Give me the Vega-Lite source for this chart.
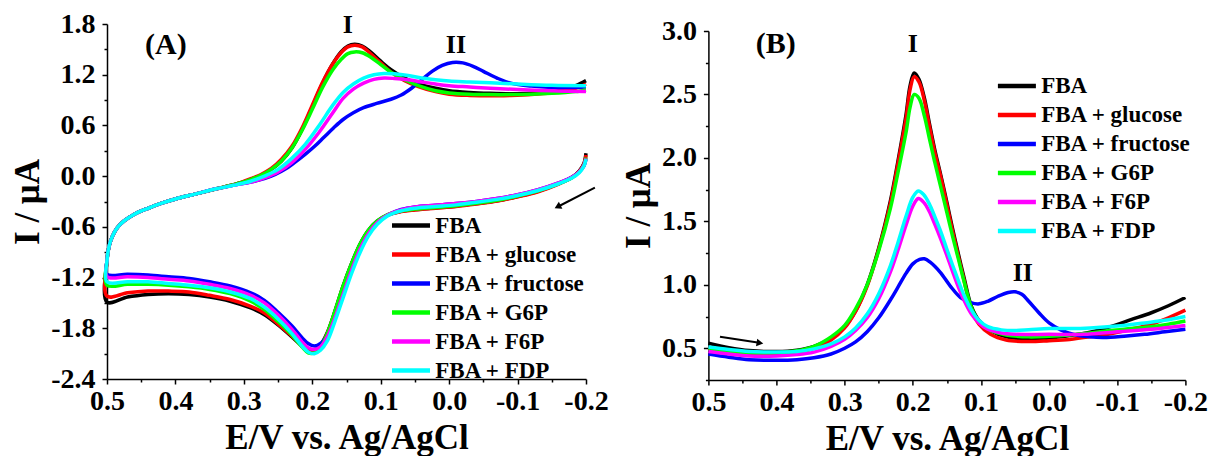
{
"$schema": "https://vega.github.io/schema/vega-lite/v6.json",
"background": "white",
"padding": {"left": 10, "top": 10, "right": 0, "bottom": 0},
"config": {
 "view": {"stroke": null},
 "font": "Liberation Serif",
 "axis": {"grid": false, "domainColor": "black", "domainWidth": 1.5, "tickColor": "black", "tickWidth": 1.5, "tickCount": 100,
  "labelFont": "Liberation Serif", "labelFontWeight": "bold", "labelFontSize": 28, "labelColor": "black",
  "labelOverlap": false, "labelFlush": false, "labelBound": false, "labelPadding": 7,
  "titleFont": "Liberation Serif", "titleFontWeight": "bold", "titleFontSize": 35, "titleColor": "black"},
 "legend": {"orient": "none", "title": null, "symbolType": "M-2,0H2", "symbolSize": 361, "symbolStrokeWidth": 4.5,
  "labelFont": "Liberation Serif", "labelFontWeight": "bold", "labelFontSize": 23, "labelColor": "black",
  "rowPadding": 5, "labelOffset": 12.3, "symbolFillColor": "transparent", "symbolOpacity": 1}
},
"datasets": {
 "cv": [
{"c":"FBA","E":-0.2,"I":0.27},{"c":"FBA","E":-0.197,"I":0.15},{"c":"FBA","E":-0.19,"I":0.06},{"c":"FBA","E":-0.18,"I":-0.01},{"c":"FBA","E":-0.16,"I":-0.09},{"c":"FBA","E":-0.13,"I":-0.18},{"c":"FBA","E":-0.1,"I":-0.24},{"c":"FBA","E":-0.07,"I":-0.29},{"c":"FBA","E":-0.04,"I":-0.325},{"c":"FBA","E":-0.01,"I":-0.355},{"c":"FBA","E":0.02,"I":-0.375},{"c":"FBA","E":0.05,"I":-0.395},{"c":"FBA","E":0.07,"I":-0.415},{"c":"FBA","E":0.09,"I":-0.46},{"c":"FBA","E":0.105,"I":-0.53},{"c":"FBA","E":0.118,"I":-0.64},{"c":"FBA","E":0.13,"I":-0.8},{"c":"FBA","E":0.142,"I":-1.02},{"c":"FBA","E":0.155,"I":-1.3},{"c":"FBA","E":0.167,"I":-1.6},{"c":"FBA","E":0.178,"I":-1.85},{"c":"FBA","E":0.188,"I":-2.0},{"c":"FBA","E":0.197,"I":-2.06},{"c":"FBA","E":0.206,"I":-2.06},{"c":"FBA","E":0.215,"I":-2.01},{"c":"FBA","E":0.23,"I":-1.9},{"c":"FBA","E":0.25,"I":-1.76},{"c":"FBA","E":0.27,"I":-1.64},{"c":"FBA","E":0.29,"I":-1.56},{"c":"FBA","E":0.32,"I":-1.48},{"c":"FBA","E":0.35,"I":-1.43},{"c":"FBA","E":0.38,"I":-1.4},{"c":"FBA","E":0.41,"I":-1.39},{"c":"FBA","E":0.44,"I":-1.4},{"c":"FBA","E":0.47,"I":-1.43},{"c":"FBA","E":0.5,"I":-1.49},
{"c":"FBA","E":0.5,"I":-1.0},{"c":"FBA","E":0.497,"I":-0.83},{"c":"FBA","E":0.492,"I":-0.71},{"c":"FBA","E":0.485,"I":-0.61},{"c":"FBA","E":0.475,"I":-0.53},{"c":"FBA","E":0.46,"I":-0.45},{"c":"FBA","E":0.44,"I":-0.38},{"c":"FBA","E":0.42,"I":-0.32},{"c":"FBA","E":0.4,"I":-0.27},{"c":"FBA","E":0.37,"I":-0.21},{"c":"FBA","E":0.34,"I":-0.15},{"c":"FBA","E":0.31,"I":-0.09},
{"c":"FBA","E":0.29,"I":-0.04},{"c":"FBA","E":0.275,"I":0.01},{"c":"FBA","E":0.26,"I":0.08},{"c":"FBA","E":0.245,"I":0.18},{"c":"FBA","E":0.23,"I":0.33},{"c":"FBA","E":0.215,"I":0.55},{"c":"FBA","E":0.2,"I":0.82},{"c":"FBA","E":0.185,"I":1.1},{"c":"FBA","E":0.17,"I":1.33},{"c":"FBA","E":0.158,"I":1.47},{"c":"FBA","E":0.148,"I":1.54},{"c":"FBA","E":0.138,"I":1.56},{"c":"FBA","E":0.127,"I":1.54},{"c":"FBA","E":0.115,"I":1.47},{"c":"FBA","E":0.1,"I":1.36},{"c":"FBA","E":0.085,"I":1.26},{"c":"FBA","E":0.065,"I":1.16},{"c":"FBA","E":0.045,"I":1.09},{"c":"FBA","E":0.02,"I":1.04},{"c":"FBA","E":0.0,"I":1.01},{"c":"FBA","E":-0.03,"I":0.99},{"c":"FBA","E":-0.06,"I":0.98},{"c":"FBA","E":-0.09,"I":0.975},{"c":"FBA","E":-0.12,"I":0.98},{"c":"FBA","E":-0.15,"I":1.0},{"c":"FBA","E":-0.17,"I":1.03},{"c":"FBA","E":-0.185,"I":1.07},{"c":"FBA","E":-0.2,"I":1.13},

{"c":"FBA + glucose","E":-0.2,"I":0.25},{"c":"FBA + glucose","E":-0.197,"I":0.14},{"c":"FBA + glucose","E":-0.19,"I":0.055},{"c":"FBA + glucose","E":-0.18,"I":-0.015},{"c":"FBA + glucose","E":-0.16,"I":-0.095},{"c":"FBA + glucose","E":-0.13,"I":-0.185},{"c":"FBA + glucose","E":-0.1,"I":-0.245},{"c":"FBA + glucose","E":-0.07,"I":-0.295},{"c":"FBA + glucose","E":-0.04,"I":-0.33},{"c":"FBA + glucose","E":-0.01,"I":-0.36},{"c":"FBA + glucose","E":0.02,"I":-0.38},{"c":"FBA + glucose","E":0.05,"I":-0.4},{"c":"FBA + glucose","E":0.07,"I":-0.42},{"c":"FBA + glucose","E":0.09,"I":-0.465},{"c":"FBA + glucose","E":0.105,"I":-0.535},{"c":"FBA + glucose","E":0.118,"I":-0.65},{"c":"FBA + glucose","E":0.13,"I":-0.81},{"c":"FBA + glucose","E":0.142,"I":-1.03},{"c":"FBA + glucose","E":0.155,"I":-1.31},{"c":"FBA + glucose","E":0.167,"I":-1.61},{"c":"FBA + glucose","E":0.178,"I":-1.86},{"c":"FBA + glucose","E":0.188,"I":-2.01},{"c":"FBA + glucose","E":0.197,"I":-2.07},{"c":"FBA + glucose","E":0.206,"I":-2.07},{"c":"FBA + glucose","E":0.215,"I":-2.01},{"c":"FBA + glucose","E":0.23,"I":-1.89},{"c":"FBA + glucose","E":0.25,"I":-1.75},{"c":"FBA + glucose","E":0.27,"I":-1.62},{"c":"FBA + glucose","E":0.29,"I":-1.54},{"c":"FBA + glucose","E":0.32,"I":-1.46},{"c":"FBA + glucose","E":0.35,"I":-1.41},{"c":"FBA + glucose","E":0.38,"I":-1.37},{"c":"FBA + glucose","E":0.41,"I":-1.36},{"c":"FBA + glucose","E":0.44,"I":-1.36},{"c":"FBA + glucose","E":0.47,"I":-1.38},{"c":"FBA + glucose","E":0.5,"I":-1.42},
{"c":"FBA + glucose","E":0.5,"I":-1.0},{"c":"FBA + glucose","E":0.497,"I":-0.83},{"c":"FBA + glucose","E":0.492,"I":-0.71},{"c":"FBA + glucose","E":0.485,"I":-0.61},{"c":"FBA + glucose","E":0.475,"I":-0.53},{"c":"FBA + glucose","E":0.46,"I":-0.45},{"c":"FBA + glucose","E":0.44,"I":-0.38},{"c":"FBA + glucose","E":0.42,"I":-0.32},{"c":"FBA + glucose","E":0.4,"I":-0.27},{"c":"FBA + glucose","E":0.37,"I":-0.21},{"c":"FBA + glucose","E":0.34,"I":-0.15},{"c":"FBA + glucose","E":0.31,"I":-0.09},
{"c":"FBA + glucose","E":0.29,"I":-0.03},{"c":"FBA + glucose","E":0.275,"I":0.02},{"c":"FBA + glucose","E":0.26,"I":0.09},{"c":"FBA + glucose","E":0.245,"I":0.2},{"c":"FBA + glucose","E":0.23,"I":0.35},{"c":"FBA + glucose","E":0.215,"I":0.57},{"c":"FBA + glucose","E":0.2,"I":0.84},{"c":"FBA + glucose","E":0.185,"I":1.11},{"c":"FBA + glucose","E":0.17,"I":1.33},{"c":"FBA + glucose","E":0.158,"I":1.46},{"c":"FBA + glucose","E":0.148,"I":1.53},{"c":"FBA + glucose","E":0.138,"I":1.55},{"c":"FBA + glucose","E":0.127,"I":1.53},{"c":"FBA + glucose","E":0.115,"I":1.45},{"c":"FBA + glucose","E":0.1,"I":1.34},{"c":"FBA + glucose","E":0.085,"I":1.23},{"c":"FBA + glucose","E":0.065,"I":1.13},{"c":"FBA + glucose","E":0.045,"I":1.06},{"c":"FBA + glucose","E":0.02,"I":1.0},{"c":"FBA + glucose","E":0.0,"I":0.97},{"c":"FBA + glucose","E":-0.03,"I":0.955},{"c":"FBA + glucose","E":-0.06,"I":0.95},{"c":"FBA + glucose","E":-0.09,"I":0.955},{"c":"FBA + glucose","E":-0.12,"I":0.965},{"c":"FBA + glucose","E":-0.15,"I":0.985},{"c":"FBA + glucose","E":-0.17,"I":1.01},{"c":"FBA + glucose","E":-0.185,"I":1.04},{"c":"FBA + glucose","E":-0.2,"I":1.09},

{"c":"FBA + fructose","E":-0.2,"I":0.2},{"c":"FBA + fructose","E":-0.197,"I":0.12},{"c":"FBA + fructose","E":-0.19,"I":0.05},{"c":"FBA + fructose","E":-0.18,"I":-0.01},{"c":"FBA + fructose","E":-0.16,"I":-0.08},{"c":"FBA + fructose","E":-0.13,"I":-0.16},{"c":"FBA + fructose","E":-0.1,"I":-0.22},{"c":"FBA + fructose","E":-0.07,"I":-0.265},{"c":"FBA + fructose","E":-0.04,"I":-0.3},{"c":"FBA + fructose","E":-0.01,"I":-0.325},{"c":"FBA + fructose","E":0.02,"I":-0.345},{"c":"FBA + fructose","E":0.05,"I":-0.365},{"c":"FBA + fructose","E":0.07,"I":-0.395},{"c":"FBA + fructose","E":0.09,"I":-0.46},{"c":"FBA + fructose","E":0.105,"I":-0.55},{"c":"FBA + fructose","E":0.118,"I":-0.69},{"c":"FBA + fructose","E":0.13,"I":-0.87},{"c":"FBA + fructose","E":0.142,"I":-1.11},{"c":"FBA + fructose","E":0.155,"I":-1.41},{"c":"FBA + fructose","E":0.167,"I":-1.68},{"c":"FBA + fructose","E":0.178,"I":-1.88},{"c":"FBA + fructose","E":0.188,"I":-1.98},{"c":"FBA + fructose","E":0.197,"I":-2.01},{"c":"FBA + fructose","E":0.206,"I":-1.98},{"c":"FBA + fructose","E":0.215,"I":-1.91},{"c":"FBA + fructose","E":0.23,"I":-1.77},{"c":"FBA + fructose","E":0.25,"I":-1.61},{"c":"FBA + fructose","E":0.27,"I":-1.47},{"c":"FBA + fructose","E":0.29,"I":-1.38},{"c":"FBA + fructose","E":0.32,"I":-1.3},{"c":"FBA + fructose","E":0.35,"I":-1.25},{"c":"FBA + fructose","E":0.38,"I":-1.21},{"c":"FBA + fructose","E":0.41,"I":-1.19},{"c":"FBA + fructose","E":0.44,"I":-1.17},{"c":"FBA + fructose","E":0.47,"I":-1.16},{"c":"FBA + fructose","E":0.5,"I":-1.16},
{"c":"FBA + fructose","E":0.5,"I":-1.0},{"c":"FBA + fructose","E":0.497,"I":-0.83},{"c":"FBA + fructose","E":0.492,"I":-0.71},{"c":"FBA + fructose","E":0.485,"I":-0.61},{"c":"FBA + fructose","E":0.475,"I":-0.53},{"c":"FBA + fructose","E":0.46,"I":-0.45},{"c":"FBA + fructose","E":0.44,"I":-0.38},{"c":"FBA + fructose","E":0.42,"I":-0.32},{"c":"FBA + fructose","E":0.4,"I":-0.27},{"c":"FBA + fructose","E":0.37,"I":-0.21},{"c":"FBA + fructose","E":0.34,"I":-0.15},{"c":"FBA + fructose","E":0.31,"I":-0.1},
{"c":"FBA + fructose","E":0.29,"I":-0.07},{"c":"FBA + fructose","E":0.27,"I":-0.03},{"c":"FBA + fructose","E":0.254,"I":0.02},{"c":"FBA + fructose","E":0.24,"I":0.08},{"c":"FBA + fructose","E":0.226,"I":0.16},{"c":"FBA + fructose","E":0.21,"I":0.26},{"c":"FBA + fructose","E":0.197,"I":0.35},{"c":"FBA + fructose","E":0.183,"I":0.46},{"c":"FBA + fructose","E":0.169,"I":0.57},{"c":"FBA + fructose","E":0.155,"I":0.67},{"c":"FBA + fructose","E":0.14,"I":0.75},{"c":"FBA + fructose","E":0.125,"I":0.81},{"c":"FBA + fructose","E":0.106,"I":0.86},{"c":"FBA + fructose","E":0.085,"I":0.91},{"c":"FBA + fructose","E":0.07,"I":0.96},{"c":"FBA + fructose","E":0.055,"I":1.04},{"c":"FBA + fructose","E":0.04,"I":1.14},{"c":"FBA + fructose","E":0.025,"I":1.24},{"c":"FBA + fructose","E":0.01,"I":1.31},{"c":"FBA + fructose","E":-0.005,"I":1.345},{"c":"FBA + fructose","E":-0.02,"I":1.34},{"c":"FBA + fructose","E":-0.035,"I":1.3},{"c":"FBA + fructose","E":-0.05,"I":1.24},{"c":"FBA + fructose","E":-0.07,"I":1.16},{"c":"FBA + fructose","E":-0.09,"I":1.1},{"c":"FBA + fructose","E":-0.12,"I":1.065},{"c":"FBA + fructose","E":-0.15,"I":1.05},{"c":"FBA + fructose","E":-0.18,"I":1.05},{"c":"FBA + fructose","E":-0.2,"I":1.055},

{"c":"FBA + G6P","E":-0.2,"I":0.22},{"c":"FBA + G6P","E":-0.197,"I":0.13},{"c":"FBA + G6P","E":-0.19,"I":0.05},{"c":"FBA + G6P","E":-0.18,"I":-0.015},{"c":"FBA + G6P","E":-0.16,"I":-0.09},{"c":"FBA + G6P","E":-0.13,"I":-0.175},{"c":"FBA + G6P","E":-0.1,"I":-0.235},{"c":"FBA + G6P","E":-0.07,"I":-0.285},{"c":"FBA + G6P","E":-0.04,"I":-0.32},{"c":"FBA + G6P","E":-0.01,"I":-0.35},{"c":"FBA + G6P","E":0.02,"I":-0.37},{"c":"FBA + G6P","E":0.05,"I":-0.39},{"c":"FBA + G6P","E":0.07,"I":-0.41},{"c":"FBA + G6P","E":0.09,"I":-0.455},{"c":"FBA + G6P","E":0.105,"I":-0.53},{"c":"FBA + G6P","E":0.118,"I":-0.64},{"c":"FBA + G6P","E":0.13,"I":-0.8},{"c":"FBA + G6P","E":0.142,"I":-1.02},{"c":"FBA + G6P","E":0.155,"I":-1.3},{"c":"FBA + G6P","E":0.167,"I":-1.6},{"c":"FBA + G6P","E":0.178,"I":-1.86},{"c":"FBA + G6P","E":0.188,"I":-2.03},{"c":"FBA + G6P","E":0.197,"I":-2.09},{"c":"FBA + G6P","E":0.206,"I":-2.09},{"c":"FBA + G6P","E":0.215,"I":-2.02},{"c":"FBA + G6P","E":0.23,"I":-1.88},{"c":"FBA + G6P","E":0.25,"I":-1.72},{"c":"FBA + G6P","E":0.27,"I":-1.58},{"c":"FBA + G6P","E":0.29,"I":-1.48},{"c":"FBA + G6P","E":0.32,"I":-1.39},{"c":"FBA + G6P","E":0.35,"I":-1.34},{"c":"FBA + G6P","E":0.38,"I":-1.31},{"c":"FBA + G6P","E":0.41,"I":-1.29},{"c":"FBA + G6P","E":0.44,"I":-1.28},{"c":"FBA + G6P","E":0.47,"I":-1.28},{"c":"FBA + G6P","E":0.5,"I":-1.29},
{"c":"FBA + G6P","E":0.5,"I":-1.0},{"c":"FBA + G6P","E":0.497,"I":-0.83},{"c":"FBA + G6P","E":0.492,"I":-0.71},{"c":"FBA + G6P","E":0.485,"I":-0.61},{"c":"FBA + G6P","E":0.475,"I":-0.53},{"c":"FBA + G6P","E":0.46,"I":-0.45},{"c":"FBA + G6P","E":0.44,"I":-0.38},{"c":"FBA + G6P","E":0.42,"I":-0.32},{"c":"FBA + G6P","E":0.4,"I":-0.27},{"c":"FBA + G6P","E":0.37,"I":-0.21},{"c":"FBA + G6P","E":0.34,"I":-0.15},{"c":"FBA + G6P","E":0.31,"I":-0.09},
{"c":"FBA + G6P","E":0.29,"I":-0.04},{"c":"FBA + G6P","E":0.275,"I":0.01},{"c":"FBA + G6P","E":0.26,"I":0.08},{"c":"FBA + G6P","E":0.245,"I":0.18},{"c":"FBA + G6P","E":0.23,"I":0.33},{"c":"FBA + G6P","E":0.215,"I":0.54},{"c":"FBA + G6P","E":0.2,"I":0.79},{"c":"FBA + G6P","E":0.185,"I":1.05},{"c":"FBA + G6P","E":0.17,"I":1.26},{"c":"FBA + G6P","E":0.158,"I":1.38},{"c":"FBA + G6P","E":0.148,"I":1.45},{"c":"FBA + G6P","E":0.138,"I":1.47},{"c":"FBA + G6P","E":0.127,"I":1.46},{"c":"FBA + G6P","E":0.115,"I":1.41},{"c":"FBA + G6P","E":0.1,"I":1.32},{"c":"FBA + G6P","E":0.085,"I":1.23},{"c":"FBA + G6P","E":0.065,"I":1.14},{"c":"FBA + G6P","E":0.045,"I":1.07},{"c":"FBA + G6P","E":0.02,"I":1.01},{"c":"FBA + G6P","E":0.0,"I":0.985},{"c":"FBA + G6P","E":-0.03,"I":0.97},{"c":"FBA + G6P","E":-0.06,"I":0.965},{"c":"FBA + G6P","E":-0.09,"I":0.965},{"c":"FBA + G6P","E":-0.12,"I":0.97},{"c":"FBA + G6P","E":-0.15,"I":0.98},{"c":"FBA + G6P","E":-0.17,"I":0.99},{"c":"FBA + G6P","E":-0.185,"I":1.0},{"c":"FBA + G6P","E":-0.2,"I":1.02},

{"c":"FBA + F6P","E":-0.2,"I":0.21},{"c":"FBA + F6P","E":-0.197,"I":0.13},{"c":"FBA + F6P","E":-0.19,"I":0.05},{"c":"FBA + F6P","E":-0.18,"I":-0.01},{"c":"FBA + F6P","E":-0.16,"I":-0.08},{"c":"FBA + F6P","E":-0.13,"I":-0.16},{"c":"FBA + F6P","E":-0.1,"I":-0.22},{"c":"FBA + F6P","E":-0.07,"I":-0.265},{"c":"FBA + F6P","E":-0.04,"I":-0.3},{"c":"FBA + F6P","E":-0.01,"I":-0.325},{"c":"FBA + F6P","E":0.02,"I":-0.345},{"c":"FBA + F6P","E":0.05,"I":-0.365},{"c":"FBA + F6P","E":0.07,"I":-0.4},{"c":"FBA + F6P","E":0.09,"I":-0.46},{"c":"FBA + F6P","E":0.105,"I":-0.55},{"c":"FBA + F6P","E":0.118,"I":-0.68},{"c":"FBA + F6P","E":0.13,"I":-0.86},{"c":"FBA + F6P","E":0.142,"I":-1.1},{"c":"FBA + F6P","E":0.155,"I":-1.4},{"c":"FBA + F6P","E":0.167,"I":-1.68},{"c":"FBA + F6P","E":0.178,"I":-1.9},{"c":"FBA + F6P","E":0.188,"I":-2.02},{"c":"FBA + F6P","E":0.197,"I":-2.05},{"c":"FBA + F6P","E":0.206,"I":-2.03},{"c":"FBA + F6P","E":0.215,"I":-1.96},{"c":"FBA + F6P","E":0.23,"I":-1.81},{"c":"FBA + F6P","E":0.25,"I":-1.64},{"c":"FBA + F6P","E":0.27,"I":-1.5},{"c":"FBA + F6P","E":0.29,"I":-1.41},{"c":"FBA + F6P","E":0.32,"I":-1.33},{"c":"FBA + F6P","E":0.35,"I":-1.28},{"c":"FBA + F6P","E":0.38,"I":-1.24},{"c":"FBA + F6P","E":0.41,"I":-1.22},{"c":"FBA + F6P","E":0.44,"I":-1.2},{"c":"FBA + F6P","E":0.47,"I":-1.19},{"c":"FBA + F6P","E":0.5,"I":-1.19},
{"c":"FBA + F6P","E":0.5,"I":-1.0},{"c":"FBA + F6P","E":0.497,"I":-0.83},{"c":"FBA + F6P","E":0.492,"I":-0.71},{"c":"FBA + F6P","E":0.485,"I":-0.61},{"c":"FBA + F6P","E":0.475,"I":-0.53},{"c":"FBA + F6P","E":0.46,"I":-0.45},{"c":"FBA + F6P","E":0.44,"I":-0.38},{"c":"FBA + F6P","E":0.42,"I":-0.32},{"c":"FBA + F6P","E":0.4,"I":-0.27},{"c":"FBA + F6P","E":0.37,"I":-0.21},{"c":"FBA + F6P","E":0.34,"I":-0.15},{"c":"FBA + F6P","E":0.31,"I":-0.1},
{"c":"FBA + F6P","E":0.29,"I":-0.07},{"c":"FBA + F6P","E":0.27,"I":-0.02},{"c":"FBA + F6P","E":0.25,"I":0.05},{"c":"FBA + F6P","E":0.23,"I":0.16},{"c":"FBA + F6P","E":0.21,"I":0.32},{"c":"FBA + F6P","E":0.19,"I":0.52},{"c":"FBA + F6P","E":0.17,"I":0.75},{"c":"FBA + F6P","E":0.155,"I":0.92},{"c":"FBA + F6P","E":0.14,"I":1.03},{"c":"FBA + F6P","E":0.125,"I":1.1},{"c":"FBA + F6P","E":0.11,"I":1.145},{"c":"FBA + F6P","E":0.095,"I":1.16},{"c":"FBA + F6P","E":0.08,"I":1.155},{"c":"FBA + F6P","E":0.06,"I":1.14},{"c":"FBA + F6P","E":0.04,"I":1.115},{"c":"FBA + F6P","E":0.02,"I":1.09},{"c":"FBA + F6P","E":0.0,"I":1.07},{"c":"FBA + F6P","E":-0.03,"I":1.055},{"c":"FBA + F6P","E":-0.06,"I":1.04},{"c":"FBA + F6P","E":-0.1,"I":1.025},{"c":"FBA + F6P","E":-0.15,"I":1.01},{"c":"FBA + F6P","E":-0.2,"I":1.0},

{"c":"FBA + FDP","E":-0.2,"I":0.2},{"c":"FBA + FDP","E":-0.197,"I":0.12},{"c":"FBA + FDP","E":-0.19,"I":0.04},{"c":"FBA + FDP","E":-0.18,"I":-0.02},{"c":"FBA + FDP","E":-0.16,"I":-0.09},{"c":"FBA + FDP","E":-0.13,"I":-0.17},{"c":"FBA + FDP","E":-0.1,"I":-0.23},{"c":"FBA + FDP","E":-0.07,"I":-0.275},{"c":"FBA + FDP","E":-0.04,"I":-0.31},{"c":"FBA + FDP","E":-0.01,"I":-0.34},{"c":"FBA + FDP","E":0.02,"I":-0.36},{"c":"FBA + FDP","E":0.05,"I":-0.38},{"c":"FBA + FDP","E":0.07,"I":-0.41},{"c":"FBA + FDP","E":0.09,"I":-0.47},{"c":"FBA + FDP","E":0.105,"I":-0.57},{"c":"FBA + FDP","E":0.118,"I":-0.71},{"c":"FBA + FDP","E":0.13,"I":-0.9},{"c":"FBA + FDP","E":0.142,"I":-1.14},{"c":"FBA + FDP","E":0.155,"I":-1.44},{"c":"FBA + FDP","E":0.167,"I":-1.72},{"c":"FBA + FDP","E":0.178,"I":-1.95},{"c":"FBA + FDP","E":0.188,"I":-2.06},{"c":"FBA + FDP","E":0.197,"I":-2.1},{"c":"FBA + FDP","E":0.206,"I":-2.08},{"c":"FBA + FDP","E":0.215,"I":-2.01},{"c":"FBA + FDP","E":0.23,"I":-1.86},{"c":"FBA + FDP","E":0.25,"I":-1.69},{"c":"FBA + FDP","E":0.27,"I":-1.55},{"c":"FBA + FDP","E":0.29,"I":-1.45},{"c":"FBA + FDP","E":0.32,"I":-1.37},{"c":"FBA + FDP","E":0.35,"I":-1.32},{"c":"FBA + FDP","E":0.38,"I":-1.29},{"c":"FBA + FDP","E":0.41,"I":-1.27},{"c":"FBA + FDP","E":0.44,"I":-1.25},{"c":"FBA + FDP","E":0.47,"I":-1.25},{"c":"FBA + FDP","E":0.5,"I":-1.25},
{"c":"FBA + FDP","E":0.5,"I":-1.0},{"c":"FBA + FDP","E":0.497,"I":-0.83},{"c":"FBA + FDP","E":0.492,"I":-0.71},{"c":"FBA + FDP","E":0.485,"I":-0.61},{"c":"FBA + FDP","E":0.475,"I":-0.53},{"c":"FBA + FDP","E":0.46,"I":-0.45},{"c":"FBA + FDP","E":0.44,"I":-0.38},{"c":"FBA + FDP","E":0.42,"I":-0.32},{"c":"FBA + FDP","E":0.4,"I":-0.27},{"c":"FBA + FDP","E":0.37,"I":-0.21},{"c":"FBA + FDP","E":0.34,"I":-0.15},{"c":"FBA + FDP","E":0.31,"I":-0.1},
{"c":"FBA + FDP","E":0.29,"I":-0.06},{"c":"FBA + FDP","E":0.27,"I":0.0},{"c":"FBA + FDP","E":0.25,"I":0.08},{"c":"FBA + FDP","E":0.23,"I":0.21},{"c":"FBA + FDP","E":0.21,"I":0.38},{"c":"FBA + FDP","E":0.19,"I":0.6},{"c":"FBA + FDP","E":0.17,"I":0.84},{"c":"FBA + FDP","E":0.155,"I":0.99},{"c":"FBA + FDP","E":0.14,"I":1.09},{"c":"FBA + FDP","E":0.125,"I":1.16},{"c":"FBA + FDP","E":0.11,"I":1.2},{"c":"FBA + FDP","E":0.095,"I":1.215},{"c":"FBA + FDP","E":0.08,"I":1.21},{"c":"FBA + FDP","E":0.06,"I":1.19},{"c":"FBA + FDP","E":0.04,"I":1.16},{"c":"FBA + FDP","E":0.02,"I":1.14},{"c":"FBA + FDP","E":0.0,"I":1.125},{"c":"FBA + FDP","E":-0.03,"I":1.115},{"c":"FBA + FDP","E":-0.06,"I":1.105},{"c":"FBA + FDP","E":-0.1,"I":1.09},{"c":"FBA + FDP","E":-0.15,"I":1.075},{"c":"FBA + FDP","E":-0.2,"I":1.07}
 ],
 "dpv": [
{"c":"FBA","E":0.5,"I":0.54},{"c":"FBA","E":0.47,"I":0.505},{"c":"FBA","E":0.44,"I":0.482},{"c":"FBA","E":0.4,"I":0.474},{"c":"FBA","E":0.37,"I":0.485},{"c":"FBA","E":0.345,"I":0.515},{"c":"FBA","E":0.32,"I":0.58},{"c":"FBA","E":0.3,"I":0.67},{"c":"FBA","E":0.284,"I":0.795},{"c":"FBA","E":0.267,"I":1.0},{"c":"FBA","E":0.25,"I":1.29},{"c":"FBA","E":0.233,"I":1.66},{"c":"FBA","E":0.222,"I":1.97},{"c":"FBA","E":0.21,"I":2.34},{"c":"FBA","E":0.204,"I":2.57},{"c":"FBA","E":0.198,"I":2.67},{"c":"FBA","E":0.191,"I":2.62},{"c":"FBA","E":0.183,"I":2.47},{"c":"FBA","E":0.176,"I":2.28},{"c":"FBA","E":0.168,"I":2.07},{"c":"FBA","E":0.159,"I":1.865},{"c":"FBA","E":0.15,"I":1.65},{"c":"FBA","E":0.142,"I":1.45},{"c":"FBA","E":0.133,"I":1.24},{"c":"FBA","E":0.125,"I":1.06},{"c":"FBA","E":0.114,"I":0.83},{"c":"FBA","E":0.103,"I":0.72},{"c":"FBA","E":0.086,"I":0.64},{"c":"FBA","E":0.063,"I":0.59},{"c":"FBA","E":0.03,"I":0.573},{"c":"FBA","E":0.0,"I":0.58},{"c":"FBA","E":-0.03,"I":0.6},{"c":"FBA","E":-0.06,"I":0.627},{"c":"FBA","E":-0.09,"I":0.67},{"c":"FBA","E":-0.12,"I":0.725},{"c":"FBA","E":-0.15,"I":0.78},{"c":"FBA","E":-0.175,"I":0.835},{"c":"FBA","E":-0.2,"I":0.9},
{"c":"FBA + glucose","E":0.5,"I":0.5},{"c":"FBA + glucose","E":0.47,"I":0.475},{"c":"FBA + glucose","E":0.44,"I":0.46},{"c":"FBA + glucose","E":0.4,"I":0.455},{"c":"FBA + glucose","E":0.37,"I":0.466},{"c":"FBA + glucose","E":0.345,"I":0.5},{"c":"FBA + glucose","E":0.32,"I":0.565},{"c":"FBA + glucose","E":0.3,"I":0.66},{"c":"FBA + glucose","E":0.284,"I":0.79},{"c":"FBA + glucose","E":0.267,"I":0.99},{"c":"FBA + glucose","E":0.25,"I":1.28},{"c":"FBA + glucose","E":0.233,"I":1.64},{"c":"FBA + glucose","E":0.222,"I":1.95},{"c":"FBA + glucose","E":0.21,"I":2.31},{"c":"FBA + glucose","E":0.204,"I":2.54},{"c":"FBA + glucose","E":0.198,"I":2.64},{"c":"FBA + glucose","E":0.191,"I":2.6},{"c":"FBA + glucose","E":0.183,"I":2.45},{"c":"FBA + glucose","E":0.176,"I":2.26},{"c":"FBA + glucose","E":0.168,"I":2.05},{"c":"FBA + glucose","E":0.159,"I":1.85},{"c":"FBA + glucose","E":0.15,"I":1.63},{"c":"FBA + glucose","E":0.142,"I":1.43},{"c":"FBA + glucose","E":0.133,"I":1.22},{"c":"FBA + glucose","E":0.125,"I":1.04},{"c":"FBA + glucose","E":0.114,"I":0.8},{"c":"FBA + glucose","E":0.103,"I":0.69},{"c":"FBA + glucose","E":0.086,"I":0.61},{"c":"FBA + glucose","E":0.063,"I":0.565},{"c":"FBA + glucose","E":0.03,"I":0.553},{"c":"FBA + glucose","E":0.0,"I":0.56},{"c":"FBA + glucose","E":-0.03,"I":0.57},{"c":"FBA + glucose","E":-0.06,"I":0.59},{"c":"FBA + glucose","E":-0.09,"I":0.615},{"c":"FBA + glucose","E":-0.12,"I":0.65},{"c":"FBA + glucose","E":-0.15,"I":0.69},{"c":"FBA + glucose","E":-0.175,"I":0.74},{"c":"FBA + glucose","E":-0.2,"I":0.8},
{"c":"FBA + fructose","E":0.5,"I":0.455},{"c":"FBA + fructose","E":0.47,"I":0.43},{"c":"FBA + fructose","E":0.44,"I":0.41},{"c":"FBA + fructose","E":0.4,"I":0.405},{"c":"FBA + fructose","E":0.37,"I":0.41},{"c":"FBA + fructose","E":0.345,"I":0.425},{"c":"FBA + fructose","E":0.32,"I":0.455},{"c":"FBA + fructose","E":0.3,"I":0.5},{"c":"FBA + fructose","E":0.284,"I":0.55},{"c":"FBA + fructose","E":0.267,"I":0.63},{"c":"FBA + fructose","E":0.25,"I":0.74},{"c":"FBA + fructose","E":0.233,"I":0.88},{"c":"FBA + fructose","E":0.222,"I":0.98},{"c":"FBA + fructose","E":0.21,"I":1.09},{"c":"FBA + fructose","E":0.2,"I":1.165},{"c":"FBA + fructose","E":0.19,"I":1.2},{"c":"FBA + fructose","E":0.183,"I":1.205},{"c":"FBA + fructose","E":0.175,"I":1.18},{"c":"FBA + fructose","E":0.16,"I":1.1},{"c":"FBA + fructose","E":0.145,"I":0.99},{"c":"FBA + fructose","E":0.13,"I":0.9},{"c":"FBA + fructose","E":0.115,"I":0.86},{"c":"FBA + fructose","E":0.103,"I":0.85},{"c":"FBA + fructose","E":0.09,"I":0.87},{"c":"FBA + fructose","E":0.075,"I":0.91},{"c":"FBA + fructose","E":0.06,"I":0.94},{"c":"FBA + fructose","E":0.05,"I":0.945},{"c":"FBA + fructose","E":0.04,"I":0.925},{"c":"FBA + fructose","E":0.03,"I":0.87},{"c":"FBA + fructose","E":0.015,"I":0.78},{"c":"FBA + fructose","E":0.0,"I":0.7},{"c":"FBA + fructose","E":-0.017,"I":0.645},{"c":"FBA + fructose","E":-0.035,"I":0.61},{"c":"FBA + fructose","E":-0.06,"I":0.59},{"c":"FBA + fructose","E":-0.08,"I":0.585},{"c":"FBA + fructose","E":-0.11,"I":0.595},{"c":"FBA + fructose","E":-0.14,"I":0.61},{"c":"FBA + fructose","E":-0.17,"I":0.63},{"c":"FBA + fructose","E":-0.2,"I":0.65},
{"c":"FBA + G6P","E":0.5,"I":0.49},{"c":"FBA + G6P","E":0.47,"I":0.475},{"c":"FBA + G6P","E":0.44,"I":0.465},{"c":"FBA + G6P","E":0.4,"I":0.465},{"c":"FBA + G6P","E":0.37,"I":0.48},{"c":"FBA + G6P","E":0.345,"I":0.515},{"c":"FBA + G6P","E":0.32,"I":0.59},{"c":"FBA + G6P","E":0.3,"I":0.68},{"c":"FBA + G6P","E":0.284,"I":0.81},{"c":"FBA + G6P","E":0.267,"I":1.0},{"c":"FBA + G6P","E":0.25,"I":1.27},{"c":"FBA + G6P","E":0.233,"I":1.6},{"c":"FBA + G6P","E":0.222,"I":1.88},{"c":"FBA + G6P","E":0.21,"I":2.2},{"c":"FBA + G6P","E":0.204,"I":2.4},{"c":"FBA + G6P","E":0.198,"I":2.5},{"c":"FBA + G6P","E":0.191,"I":2.47},{"c":"FBA + G6P","E":0.183,"I":2.33},{"c":"FBA + G6P","E":0.176,"I":2.16},{"c":"FBA + G6P","E":0.168,"I":1.97},{"c":"FBA + G6P","E":0.159,"I":1.77},{"c":"FBA + G6P","E":0.15,"I":1.57},{"c":"FBA + G6P","E":0.142,"I":1.39},{"c":"FBA + G6P","E":0.133,"I":1.2},{"c":"FBA + G6P","E":0.125,"I":1.03},{"c":"FBA + G6P","E":0.114,"I":0.82},{"c":"FBA + G6P","E":0.103,"I":0.71},{"c":"FBA + G6P","E":0.086,"I":0.64},{"c":"FBA + G6P","E":0.063,"I":0.605},{"c":"FBA + G6P","E":0.03,"I":0.59},{"c":"FBA + G6P","E":0.0,"I":0.595},{"c":"FBA + G6P","E":-0.03,"I":0.605},{"c":"FBA + G6P","E":-0.06,"I":0.62},{"c":"FBA + G6P","E":-0.09,"I":0.64},{"c":"FBA + G6P","E":-0.12,"I":0.655},{"c":"FBA + G6P","E":-0.15,"I":0.67},{"c":"FBA + G6P","E":-0.175,"I":0.69},{"c":"FBA + G6P","E":-0.2,"I":0.715},
{"c":"FBA + F6P","E":0.5,"I":0.475},{"c":"FBA + F6P","E":0.47,"I":0.455},{"c":"FBA + F6P","E":0.44,"I":0.44},{"c":"FBA + F6P","E":0.4,"I":0.44},{"c":"FBA + F6P","E":0.37,"I":0.45},{"c":"FBA + F6P","E":0.345,"I":0.47},{"c":"FBA + F6P","E":0.32,"I":0.515},{"c":"FBA + F6P","E":0.3,"I":0.57},{"c":"FBA + F6P","E":0.284,"I":0.64},{"c":"FBA + F6P","E":0.267,"I":0.74},{"c":"FBA + F6P","E":0.25,"I":0.89},{"c":"FBA + F6P","E":0.233,"I":1.1},{"c":"FBA + F6P","E":0.222,"I":1.27},{"c":"FBA + F6P","E":0.21,"I":1.47},{"c":"FBA + F6P","E":0.2,"I":1.62},{"c":"FBA + F6P","E":0.192,"I":1.68},{"c":"FBA + F6P","E":0.184,"I":1.65},{"c":"FBA + F6P","E":0.176,"I":1.58},{"c":"FBA + F6P","E":0.168,"I":1.48},{"c":"FBA + F6P","E":0.159,"I":1.36},{"c":"FBA + F6P","E":0.15,"I":1.23},{"c":"FBA + F6P","E":0.142,"I":1.11},{"c":"FBA + F6P","E":0.133,"I":0.98},{"c":"FBA + F6P","E":0.125,"I":0.88},{"c":"FBA + F6P","E":0.114,"I":0.77},{"c":"FBA + F6P","E":0.103,"I":0.7},{"c":"FBA + F6P","E":0.09,"I":0.65},{"c":"FBA + F6P","E":0.07,"I":0.62},{"c":"FBA + F6P","E":0.05,"I":0.61},{"c":"FBA + F6P","E":0.0,"I":0.61},{"c":"FBA + F6P","E":-0.05,"I":0.61},{"c":"FBA + F6P","E":-0.1,"I":0.63},{"c":"FBA + F6P","E":-0.15,"I":0.65},{"c":"FBA + F6P","E":-0.2,"I":0.68},
{"c":"FBA + FDP","E":0.5,"I":0.51},{"c":"FBA + FDP","E":0.47,"I":0.49},{"c":"FBA + FDP","E":0.44,"I":0.475},{"c":"FBA + FDP","E":0.4,"I":0.47},{"c":"FBA + FDP","E":0.37,"I":0.475},{"c":"FBA + FDP","E":0.345,"I":0.495},{"c":"FBA + FDP","E":0.32,"I":0.535},{"c":"FBA + FDP","E":0.3,"I":0.59},{"c":"FBA + FDP","E":0.284,"I":0.66},{"c":"FBA + FDP","E":0.267,"I":0.77},{"c":"FBA + FDP","E":0.25,"I":0.93},{"c":"FBA + FDP","E":0.233,"I":1.15},{"c":"FBA + FDP","E":0.222,"I":1.33},{"c":"FBA + FDP","E":0.21,"I":1.54},{"c":"FBA + FDP","E":0.2,"I":1.69},{"c":"FBA + FDP","E":0.192,"I":1.74},{"c":"FBA + FDP","E":0.184,"I":1.71},{"c":"FBA + FDP","E":0.176,"I":1.64},{"c":"FBA + FDP","E":0.168,"I":1.54},{"c":"FBA + FDP","E":0.159,"I":1.42},{"c":"FBA + FDP","E":0.15,"I":1.28},{"c":"FBA + FDP","E":0.142,"I":1.16},{"c":"FBA + FDP","E":0.133,"I":1.03},{"c":"FBA + FDP","E":0.125,"I":0.92},{"c":"FBA + FDP","E":0.114,"I":0.8},{"c":"FBA + FDP","E":0.103,"I":0.72},{"c":"FBA + FDP","E":0.09,"I":0.67},{"c":"FBA + FDP","E":0.07,"I":0.645},{"c":"FBA + FDP","E":0.05,"I":0.64},{"c":"FBA + FDP","E":0.03,"I":0.645},{"c":"FBA + FDP","E":0.0,"I":0.655},{"c":"FBA + FDP","E":-0.03,"I":0.655},{"c":"FBA + FDP","E":-0.06,"I":0.66},{"c":"FBA + FDP","E":-0.1,"I":0.675},{"c":"FBA + FDP","E":-0.14,"I":0.7},{"c":"FBA + FDP","E":-0.17,"I":0.72},{"c":"FBA + FDP","E":-0.2,"I":0.75}
 ]
},
"align": "none",
"bounds": "flush",
"spacing": 122.4,
"resolve": {"scale": {"color": "independent"}, "legend": {"color": "independent"}},
"hconcat": [
 {
  "width": 479, "height": 355,
  "layer": [
   {"data": {"name": "cv"},
    "mark": {"type": "line", "interpolate": "catmull-rom", "strokeWidth": 3.5},
    "encoding": {
     "x": {"field": "E", "type": "quantitative", "scale": {"domain": [0.5, -0.2], "nice": false, "zero": false},
      "axis": {"title": "E/V vs. Ag/AgCl", "values": [0.5,0.45,0.4,0.35,0.3,0.25,0.2,0.15,0.1,0.05,0,-0.05,-0.1,-0.15,-0.2],
       "labelExpr": "abs(datum.value*10-round(datum.value*10))<0.001 ? (datum.value < -0.001 ? '-' : '') + format(abs(datum.value), '.1f') : ''",
       "tickSize": {"condition": {"test": "abs(datum.value*10-round(datum.value*10))<0.001", "value": 5}, "value": 3},
       "labelPadding": 3, "titlePadding": 5}},
     "y": {"field": "I", "type": "quantitative", "scale": {"domain": [-2.4, 1.8], "nice": false, "zero": false},
      "axis": {"title": "I / μA", "values": [1.8,1.5,1.2,0.9,0.6,0.3,0,-0.3,-0.6,-0.9,-1.2,-1.5,-1.8,-2.1,-2.4],
       "labelExpr": "abs(datum.value/0.6-round(datum.value/0.6))<0.001 ? (datum.value < -0.001 ? '-' : '') + format(abs(datum.value), '.1f') : ''",
       "tickSize": {"condition": {"test": "abs(datum.value/0.6-round(datum.value/0.6))<0.001", "value": 5}, "value": 3},
       "titlePadding": 5}},
     "color": {"field": "c", "type": "nominal",
      "scale": {"domain": ["FBA","FBA + glucose","FBA + fructose","FBA + G6P","FBA + F6P","FBA + FDP"], "range": ["#000000","#ff0000","#0000ff","#00ff00","#ff00ff","#00ffff"]},
      "legend": {"legendX": 292, "legendY": 189.5, "labelFont": "Liberation Serif", "labelFontWeight": "bold"}},
     "order": {"value": null}
    }},
   {"data": {"values": [{"t": "(A)", "E": 0.414, "I": 1.555}]},
    "mark": {"type": "text", "font": "Liberation Serif", "fontWeight": "bold", "fontSize": 30, "align": "center", "baseline": "middle", "color": "black"},
    "encoding": {"x": {"field": "E", "type": "quantitative"}, "y": {"field": "I", "type": "quantitative"}, "text": {"field": "t"}}},
   {"data": {"values": [{"t": "I", "E": 0.148, "I": 1.79}, {"t": "II", "E": -0.01, "I": 1.555}]},
    "mark": {"type": "text", "font": "Liberation Serif", "fontWeight": "bold", "fontSize": 26, "align": "center", "baseline": "middle", "color": "black"},
    "encoding": {"x": {"field": "E", "type": "quantitative"}, "y": {"field": "I", "type": "quantitative"}, "text": {"field": "t"}}},
   {"data": {"values": [{"E": -0.213, "I": -0.137, "E2": -0.158, "I2": -0.365}]},
    "mark": {"type": "rule", "strokeWidth": 2, "color": "black"},
    "encoding": {"x": {"field": "E", "type": "quantitative"}, "y": {"field": "I", "type": "quantitative"}, "x2": {"field": "E2"}, "y2": {"field": "I2"}}},
   {"data": {"values": [{"E": -0.16, "I": -0.357}]},
    "mark": {"type": "point", "shape": "triangle", "angle": 243, "filled": true, "size": 60, "color": "black", "opacity": 1},
    "encoding": {"x": {"field": "E", "type": "quantitative"}, "y": {"field": "I", "type": "quantitative"}}}
  ]
 },
 {
  "align": "none",
  "bounds": "flush",
  "spacing": 6,
  "resolve": {"scale": {"color": "independent"}, "legend": {"color": "independent"}},
  "vconcat": [
   {"width": 477, "height": 1, "data": {"values": [{"t": ""}]}, "mark": {"type": "point", "opacity": 0}},
   {
    "width": 477, "height": 349,
    "layer": [
     {"data": {"name": "dpv"},
      "mark": {"type": "line", "interpolate": "catmull-rom", "strokeWidth": 3.5},
      "encoding": {
       "x": {"field": "E", "type": "quantitative", "scale": {"domain": [0.5, -0.2], "nice": false, "zero": false},
        "axis": {"title": "E/V vs. Ag/AgCl", "values": [0.5,0.45,0.4,0.35,0.3,0.25,0.2,0.15,0.1,0.05,0,-0.05,-0.1,-0.15,-0.2],
         "labelExpr": "abs(datum.value*10-round(datum.value*10))<0.001 ? (datum.value < -0.001 ? '-' : '') + format(abs(datum.value), '.1f') : ''",
         "tickSize": {"condition": {"test": "abs(datum.value*10-round(datum.value*10))<0.001", "value": 5}, "value": 3},
         "labelPadding": 3, "titlePadding": 5}},
       "y": {"field": "I", "type": "quantitative", "scale": {"domain": [0.25, 3.0], "nice": false, "zero": false},
        "axis": {"title": "I / μA", "values": [0.25,0.5,0.75,1,1.25,1.5,1.75,2,2.25,2.5,2.75,3],
         "labelExpr": "abs(datum.value*2-round(datum.value*2))<0.001 ? format(datum.value, '.1f') : ''",
         "tickSize": {"condition": {"test": "abs(datum.value*2-round(datum.value*2))<0.001", "value": 5}, "value": 3},
         "titlePadding": 5}},
       "color": {"field": "c", "type": "nominal",
        "scale": {"domain": ["FBA","FBA + glucose","FBA + fructose","FBA + G6P","FBA + F6P","FBA + FDP"], "range": ["#000000","#ff0000","#0000ff","#00ff00","#ff00ff","#00ffff"]},
        "legend": {"legendX": 296.5, "legendY": 43, "labelFont": "Liberation Serif", "labelFontWeight": "bold"}},
       "order": {"value": null}
      }},
     {"data": {"values": [{"t": "(B)", "E": 0.401, "I": 2.898}]},
      "mark": {"type": "text", "font": "Liberation Serif", "fontWeight": "bold", "fontSize": 30, "align": "center", "baseline": "middle", "color": "black"},
      "encoding": {"x": {"field": "E", "type": "quantitative"}, "y": {"field": "I", "type": "quantitative"}, "text": {"field": "t"}}},
     {"data": {"values": [{"t": "I", "E": 0.2, "I": 2.898}, {"t": "II", "E": 0.0385, "I": 1.095}]},
      "mark": {"type": "text", "font": "Liberation Serif", "fontWeight": "bold", "fontSize": 26, "align": "center", "baseline": "middle", "color": "black"},
      "encoding": {"x": {"field": "E", "type": "quantitative"}, "y": {"field": "I", "type": "quantitative"}, "text": {"field": "t"}}},
     {"data": {"values": [{"E": 0.483, "I": 0.591, "E2": 0.423, "I2": 0.541}]},
      "mark": {"type": "rule", "strokeWidth": 2, "color": "black"},
      "encoding": {"x": {"field": "E", "type": "quantitative"}, "y": {"field": "I", "type": "quantitative"}, "x2": {"field": "E2"}, "y2": {"field": "I2"}}},
     {"data": {"values": [{"E": 0.426, "I": 0.543}]},
      "mark": {"type": "point", "shape": "triangle", "angle": 99, "filled": true, "size": 60, "color": "black", "opacity": 1},
      "encoding": {"x": {"field": "E", "type": "quantitative"}, "y": {"field": "I", "type": "quantitative"}}}
    ]
   }
  ]
 }
]
}
